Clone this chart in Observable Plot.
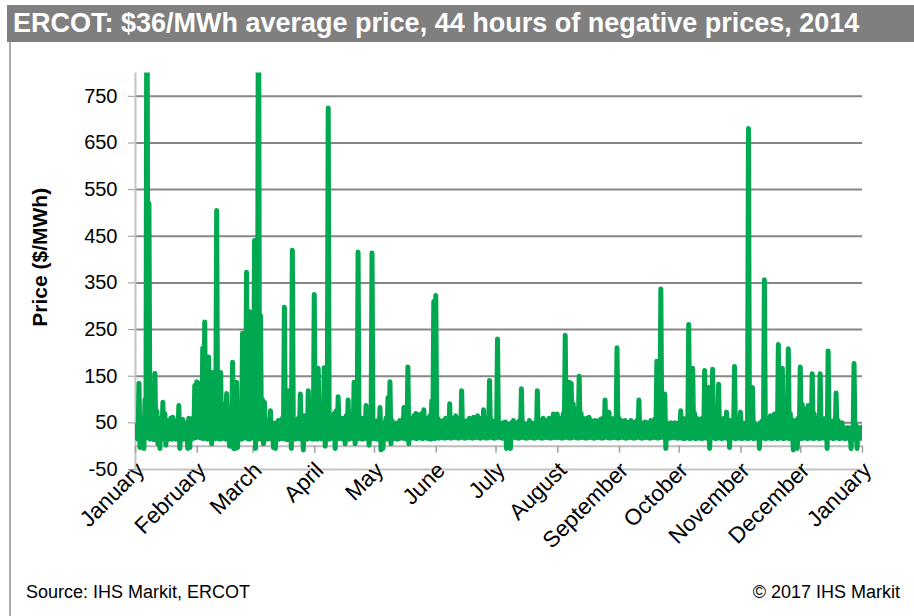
<!DOCTYPE html>
<html>
<head>
<meta charset="utf-8">
<script src="https://cdn.jsdelivr.net/npm/d3@7"></script>
<script src="https://cdn.jsdelivr.net/npm/@observablehq/plot@0.6"></script>
<style>
  html, body { margin: 0; padding: 0; background: #fff; }
  body { width: 914px; height: 616px; position: relative; overflow: hidden; font-family: "Liberation Sans", Arial, sans-serif; }
  #title { position: absolute; left: 7px; top: 5px; right: 0; height: 37px; background: #7f7f7f; color: #fff; font-weight: bold; font-size: 27px; line-height: 37px; padding-left: 6px; white-space: nowrap; }
  #leftline { position: absolute; left: 9px; top: 42px; width: 2px; height: 574px; background: #a9a9a9; }
  #chart { position: absolute; left: 0; top: 42px; }
  .foot { position: absolute; top: 582px; font-size: 18px; color: #000; white-space: nowrap; }
</style>
</head>
<body>
<div id="title">ERCOT: $36/MWh average price, 44 hours of negative prices, 2014</div>
<div id="leftline"></div>
<div id="chart"></div>
<div class="foot" style="left:26px">Source: IHS Markit, ERCOT</div>
<div class="foot" style="right:14px">© 2017 IHS Markit</div>
<script>
// Daily high price ($/MWh), 2014, day 0 = Jan 1
const dailyHigh = [
  // January
  45,135,60,50,100,1200,520,80,60,156, 75,60,55,94,70,50,55,60,62,55, 45,87,45,57,50,45,60,55,60,130, 138,
  // February
  135,100,210,266,120,191,100,158,90,505, 100,158,70,90,113,60,80,180,70,137, 60,80,242,150,373,290,287,120,
  // March
  441,200,1200,280,100,94,50,55,76,50, 45,50,55,50,60,298,80,119,60,420, 50,55,60,112,55,65,60,119,55,60, 325,
  // April
  80,167,60,70,168,60,725,65,55,70, 76,106,55,60,50,65,99,55,70,137, 60,416,55,60,50,87,55,50,414,55,
  // May
  50,55,83,50,45,60,104,138,55,50, 45,50,55,50,83,60,170,55,60,65, 70,68,65,70,78,60,55,65,97,310, 323,
  // June
  60,55,50,55,60,55,91,55,60,65, 55,60,119,55,50,55,60,58,62,60, 65,55,60,78,55,60,141,55,50,55,
  // July
  230,50,45,50,52,48,45,50,55,50, 48,55,123,50,48,45,55,50,45,50, 119,50,55,60,50,55,60,55,69,55, 69,
  // August
  60,55,70,238,90,137,135,91,70,80, 150,70,60,55,60,62,55,50,55,50, 55,58,60,99,65,73,60,55,60,211, 60,
  // September
  55,50,55,52,50,55,50,52,55,99, 50,48,52,50,45,55,50,58,182,120, 337,80,112,50,45,50,48,50,45,50,
  // October
  76,60,55,60,261,90,167,70,60,55, 58,60,162,90,126,60,165,80,70,133, 60,55,60,73,50,55,50,171,60,50, 73,
  // November
  50,45,50,681,90,126,50,41,45,50, 55,357,60,55,65,60,69,60,218,100, 167,60,55,209,70,50,55,45,60,170,
  // December
  90,80,60,87,60,155,70,60,55,155, 60,55,60,204,55,50,55,114,55,45, 50,40,35,40,30,40,177,45,40,35, 41
];
// Daily low price ($/MWh), 2014
const dailyLow = [
  // January
  18,15,-3,16,-5,20,18,15,17,14, 16,5,-5,15,16,2,14,16,15,17, 15,16,-5,14,15,16,-5,-3,15,17, 18,
  // February
  20,18,17,16,19,15,17,5,18,16, 17,15,16,18,15,17,0,15,-5,-5, -3,16,15,17,18,16,15,17,
  // March
  18,-5,16,15,17,5,16,15,17,15, -3,-5,16,15,17,16,15,14,17,-5, 16,15,17,16,15,-8,16,15,17,16, 15,
  // April
  16,15,17,16,15,0,16,15,17,16, -5,15,17,16,15,5,16,15,17,16, 5,15,17,16,15,17,16,2,15,17,
  // May
  16,15,17,-8,-5,16,15,17,5,16, 17,15,16,18,17,16,15,5,17,18, 17,16,18,17,16,18,17,16,15,17, 16,
  // June
  18,17,19,18,17,18,19,17,18,19, 18,17,19,18,17,18,19,18,17,18, 19,18,17,19,18,17,18,19,18,17,
  // July
  18,19,18,17,18,-5,18,-5,18,19, 18,17,18,19,18,17,18,19,18,17, 18,19,18,17,18,19,18,17,18,19, 18,
  // August
  19,18,17,18,19,18,17,18,19,18, 17,18,19,18,17,18,19,18,17,18, 19,18,17,18,19,18,17,18,19,18, 17,
  // September
  18,19,18,17,18,19,18,17,18,19, 18,17,18,19,18,17,18,19,18,17, 18,19,18,-5,18,17,18,19,18,17,
  // October
  18,17,16,17,18,16,17,18,16,17, 18,16,17,18,16,-5,17,18,16,17, 18,16,17,18,16,-3,17,18,16,17, 18,
  // November
  16,17,18,16,17,18,16,17,18,-5, 17,18,16,17,18,16,17,18,16,17, 18,16,17,18,16,17,-8,16,-5,17,
  // December
  16,17,18,16,17,18,16,17,18,16, 17,18,16,-5,17,18,16,17,18,16, 17,18,16,17,18,-5,16,17,-5,16, 17
];
const yTicks = [-50, 50, 150, 250, 350, 450, 550, 650, 750];
const gridTicks = [50, 150, 250, 350, 450, 550, 650, 750];
const monthTicks = d3.range(0, 13).map(m => new Date(Date.UTC(2014, m, 1)));

const DAY = 86400000;
const t0 = Date.UTC(2014, 0, 1);
const series = [];
dailyHigh.forEach((h, d) => {
  series.push({t: new Date(t0 + (d + 0.25) * DAY), price: dailyLow[d]});
  series.push({t: new Date(t0 + (d + 0.75) * DAY), price: h});
});

const chart = Plot.plot({
  width: 914,
  height: 518,
  marginTop: 30.5,
  marginBottom: 91,
  marginLeft: 135,
  marginRight: 52,
  style: {fontFamily: "'Liberation Sans', Arial, sans-serif", fontSize: "20px", color: "#000", background: "transparent"},
  x: {type: "utc", domain: [monthTicks[0], monthTicks[12]]},
  y: {domain: [-50, 800]},
  marks: [
    Plot.gridY(gridTicks, {stroke: "#868686", strokeOpacity: 1, strokeWidth: 2}),
    Plot.ruleY([-50], {stroke: "#c4c4c4", strokeWidth: 2}),
    Plot.ruleX([monthTicks[0]], {stroke: "#c4c4c4", strokeWidth: 2}),
    Plot.axisY(yTicks, {tickSize: 7, tickPadding: 11, fontSize: 20, stroke: "#9a9a9a", color: "#000", label: null, tickFormat: d => String(d)}),
    Plot.axisX(monthTicks, {tickFormat: d3.utcFormat("%B"), tickRotate: -45, tickSize: 0, tickPadding: 0, dx: 5, dy: -3, fontSize: 22.5, label: null}),
    Plot.text(["Price ($/MWh)"], {frameAnchor: "left", dx: -95, dy: -14, rotate: -90, textAnchor: "middle", fontWeight: "bold", fontSize: 21, fill: "#000"}),
    Plot.ruleY([0], {stroke: "#bdbdbd", strokeWidth: 2}),
    Plot.ruleX(monthTicks, {x: d => d, y1: 0, y2: 0, insetBottom: -7, stroke: "#a0a0a0", strokeWidth: 1.5}),
    Plot.line(series, {x: "t", y: "price", stroke: "#00a84f", strokeWidth: 5, strokeLinejoin: "round", strokeLinecap: "round", clip: true})
  ]
});
document.getElementById("chart").appendChild(chart);
</script>
</body>
</html>
